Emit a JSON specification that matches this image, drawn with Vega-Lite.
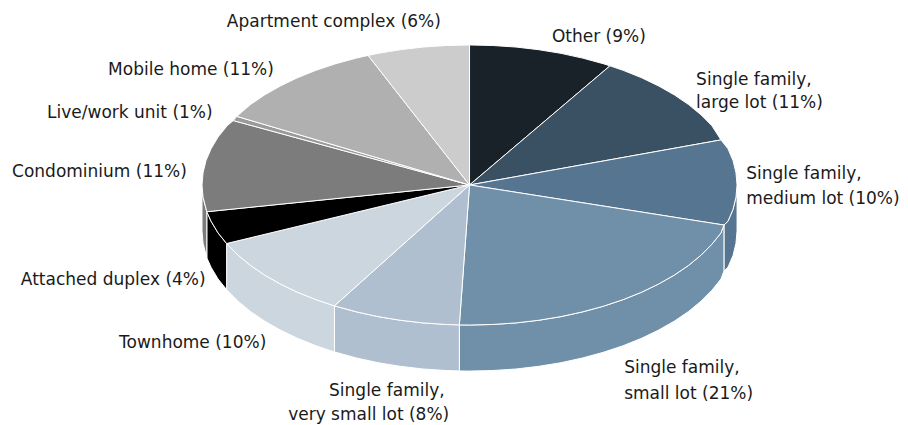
{
"$schema":"https://vega.github.io/schema/vega-lite/v6.json",
"width":908,"height":425,"padding":0,"autosize":{"type":"none"},"background":"white",
"config":{"view":{"stroke":null}},
"datasets":{
"wall":[
{"slice":"Medium","n":0,"x":1,"y":0},{"slice":"Medium","n":1,"x":0.996,"y":-0.087},{"slice":"Medium","n":2,"x":0.985,"y":-0.174},{"slice":"Medium","n":3,"x":0.966,"y":-0.259},{"slice":"Medium","n":4,"x":0.951,"y":-0.286},{"slice":"Medium","n":5,"x":0.951,"y":-0.615},{"slice":"Medium","n":6,"x":0.966,"y":-0.588},{"slice":"Medium","n":7,"x":0.985,"y":-0.503},{"slice":"Medium","n":8,"x":0.996,"y":-0.416},{"slice":"Medium","n":9,"x":1,"y":-0.329},{"slice":"Medium","n":10,"x":1,"y":0},
{"slice":"Small","n":0,"x":0.951,"y":-0.286},{"slice":"Small","n":1,"x":0.94,"y":-0.342},{"slice":"Small","n":2,"x":0.906,"y":-0.423},{"slice":"Small","n":3,"x":0.866,"y":-0.5},{"slice":"Small","n":4,"x":0.819,"y":-0.574},{"slice":"Small","n":5,"x":0.766,"y":-0.643},{"slice":"Small","n":6,"x":0.707,"y":-0.707},{"slice":"Small","n":7,"x":0.643,"y":-0.766},{"slice":"Small","n":8,"x":0.574,"y":-0.819},{"slice":"Small","n":9,"x":0.5,"y":-0.866},{"slice":"Small","n":10,"x":0.423,"y":-0.906},{"slice":"Small","n":11,"x":0.342,"y":-0.94},{"slice":"Small","n":12,"x":0.259,"y":-0.966},{"slice":"Small","n":13,"x":0.174,"y":-0.985},{"slice":"Small","n":14,"x":0.087,"y":-0.996},{"slice":"Small","n":15,"x":0,"y":-1},{"slice":"Small","n":16,"x":-0.038,"y":-0.999},
{"slice":"Small","n":17,"x":-0.038,"y":-1.328},{"slice":"Small","n":18,"x":0,"y":-1.329},{"slice":"Small","n":19,"x":0.087,"y":-1.325},{"slice":"Small","n":20,"x":0.174,"y":-1.314},{"slice":"Small","n":21,"x":0.259,"y":-1.295},{"slice":"Small","n":22,"x":0.342,"y":-1.269},{"slice":"Small","n":23,"x":0.423,"y":-1.235},{"slice":"Small","n":24,"x":0.5,"y":-1.195},{"slice":"Small","n":25,"x":0.574,"y":-1.148},{"slice":"Small","n":26,"x":0.643,"y":-1.095},{"slice":"Small","n":27,"x":0.707,"y":-1.036},{"slice":"Small","n":28,"x":0.766,"y":-0.972},{"slice":"Small","n":29,"x":0.819,"y":-0.903},{"slice":"Small","n":30,"x":0.866,"y":-0.829},{"slice":"Small","n":31,"x":0.906,"y":-0.752},{"slice":"Small","n":32,"x":0.94,"y":-0.671},{"slice":"Small","n":33,"x":0.951,"y":-0.615},{"slice":"Small","n":34,"x":0.951,"y":-0.286},
{"slice":"VerySmall","n":0,"x":-0.038,"y":-0.999},{"slice":"VerySmall","n":1,"x":-0.087,"y":-0.996},{"slice":"VerySmall","n":2,"x":-0.174,"y":-0.985},{"slice":"VerySmall","n":3,"x":-0.259,"y":-0.966},{"slice":"VerySmall","n":4,"x":-0.342,"y":-0.94},{"slice":"VerySmall","n":5,"x":-0.423,"y":-0.906},{"slice":"VerySmall","n":6,"x":-0.505,"y":-0.863},{"slice":"VerySmall","n":7,"x":-0.505,"y":-1.192},{"slice":"VerySmall","n":8,"x":-0.423,"y":-1.235},{"slice":"VerySmall","n":9,"x":-0.342,"y":-1.269},{"slice":"VerySmall","n":10,"x":-0.259,"y":-1.295},{"slice":"VerySmall","n":11,"x":-0.174,"y":-1.314},{"slice":"VerySmall","n":12,"x":-0.087,"y":-1.325},{"slice":"VerySmall","n":13,"x":-0.038,"y":-1.328},{"slice":"VerySmall","n":14,"x":-0.038,"y":-0.999},
{"slice":"Townhome","n":0,"x":-0.505,"y":-0.863},{"slice":"Townhome","n":1,"x":-0.574,"y":-0.819},{"slice":"Townhome","n":2,"x":-0.643,"y":-0.766},{"slice":"Townhome","n":3,"x":-0.707,"y":-0.707},{"slice":"Townhome","n":4,"x":-0.766,"y":-0.643},{"slice":"Townhome","n":5,"x":-0.819,"y":-0.574},{"slice":"Townhome","n":6,"x":-0.866,"y":-0.5},{"slice":"Townhome","n":7,"x":-0.908,"y":-0.418},{"slice":"Townhome","n":8,"x":-0.908,"y":-0.747},{"slice":"Townhome","n":9,"x":-0.866,"y":-0.829},{"slice":"Townhome","n":10,"x":-0.819,"y":-0.903},{"slice":"Townhome","n":11,"x":-0.766,"y":-0.972},{"slice":"Townhome","n":12,"x":-0.707,"y":-1.036},{"slice":"Townhome","n":13,"x":-0.643,"y":-1.095},{"slice":"Townhome","n":14,"x":-0.574,"y":-1.148},{"slice":"Townhome","n":15,"x":-0.505,"y":-1.192},{"slice":"Townhome","n":16,"x":-0.505,"y":-0.863},
{"slice":"Attached","n":0,"x":-0.908,"y":-0.418},{"slice":"Attached","n":1,"x":-0.94,"y":-0.342},{"slice":"Attached","n":2,"x":-0.966,"y":-0.259},{"slice":"Attached","n":3,"x":-0.982,"y":-0.191},{"slice":"Attached","n":4,"x":-0.982,"y":-0.52},{"slice":"Attached","n":5,"x":-0.966,"y":-0.588},{"slice":"Attached","n":6,"x":-0.94,"y":-0.671},{"slice":"Attached","n":7,"x":-0.908,"y":-0.747},{"slice":"Attached","n":8,"x":-0.908,"y":-0.418},
{"slice":"Condo","n":0,"x":-0.982,"y":-0.191},{"slice":"Condo","n":1,"x":-0.996,"y":-0.087},{"slice":"Condo","n":2,"x":-1,"y":0},{"slice":"Condo","n":3,"x":-1,"y":-0.329},{"slice":"Condo","n":4,"x":-0.996,"y":-0.416},{"slice":"Condo","n":5,"x":-0.982,"y":-0.52},{"slice":"Condo","n":6,"x":-0.982,"y":-0.191}
],
"top":[
{"slice":"Other","n":0,"x":0,"y":0},{"slice":"Other","n":1,"x":0,"y":1},{"slice":"Other","n":2,"x":0.087,"y":0.996},{"slice":"Other","n":3,"x":0.174,"y":0.985},{"slice":"Other","n":4,"x":0.259,"y":0.966},{"slice":"Other","n":5,"x":0.342,"y":0.94},{"slice":"Other","n":6,"x":0.423,"y":0.906},{"slice":"Other","n":7,"x":0.5,"y":0.866},{"slice":"Other","n":8,"x":0.525,"y":0.851},{"slice":"Other","n":9,"x":0,"y":0},
{"slice":"Large","n":0,"x":0,"y":0},{"slice":"Large","n":1,"x":0.525,"y":0.851},{"slice":"Large","n":2,"x":0.574,"y":0.819},{"slice":"Large","n":3,"x":0.643,"y":0.766},{"slice":"Large","n":4,"x":0.707,"y":0.707},{"slice":"Large","n":5,"x":0.766,"y":0.643},{"slice":"Large","n":6,"x":0.819,"y":0.574},{"slice":"Large","n":7,"x":0.866,"y":0.5},{"slice":"Large","n":8,"x":0.906,"y":0.423},{"slice":"Large","n":9,"x":0.94,"y":0.322},{"slice":"Large","n":10,"x":0,"y":0},
{"slice":"Medium","n":0,"x":0,"y":0},{"slice":"Medium","n":1,"x":0.94,"y":0.322},{"slice":"Medium","n":2,"x":0.966,"y":0.259},{"slice":"Medium","n":3,"x":0.985,"y":0.174},{"slice":"Medium","n":4,"x":0.996,"y":0.087},{"slice":"Medium","n":5,"x":1,"y":0},{"slice":"Medium","n":6,"x":0.996,"y":-0.087},{"slice":"Medium","n":7,"x":0.985,"y":-0.174},{"slice":"Medium","n":8,"x":0.966,"y":-0.259},{"slice":"Medium","n":9,"x":0.951,"y":-0.286},{"slice":"Medium","n":10,"x":0,"y":0},
{"slice":"Small","n":0,"x":0,"y":0},{"slice":"Small","n":1,"x":0.951,"y":-0.286},{"slice":"Small","n":2,"x":0.94,"y":-0.342},{"slice":"Small","n":3,"x":0.906,"y":-0.423},{"slice":"Small","n":4,"x":0.866,"y":-0.5},{"slice":"Small","n":5,"x":0.819,"y":-0.574},{"slice":"Small","n":6,"x":0.766,"y":-0.643},{"slice":"Small","n":7,"x":0.707,"y":-0.707},{"slice":"Small","n":8,"x":0.643,"y":-0.766},{"slice":"Small","n":9,"x":0.574,"y":-0.819},{"slice":"Small","n":10,"x":0.5,"y":-0.866},{"slice":"Small","n":11,"x":0.423,"y":-0.906},{"slice":"Small","n":12,"x":0.342,"y":-0.94},{"slice":"Small","n":13,"x":0.259,"y":-0.966},{"slice":"Small","n":14,"x":0.174,"y":-0.985},{"slice":"Small","n":15,"x":0.087,"y":-0.996},{"slice":"Small","n":16,"x":0,"y":-1},{"slice":"Small","n":17,"x":-0.038,"y":-0.999},{"slice":"Small","n":18,"x":0,"y":0},
{"slice":"VerySmall","n":0,"x":0,"y":0},{"slice":"VerySmall","n":1,"x":-0.038,"y":-0.999},{"slice":"VerySmall","n":2,"x":-0.087,"y":-0.996},{"slice":"VerySmall","n":3,"x":-0.174,"y":-0.985},{"slice":"VerySmall","n":4,"x":-0.259,"y":-0.966},{"slice":"VerySmall","n":5,"x":-0.342,"y":-0.94},{"slice":"VerySmall","n":6,"x":-0.423,"y":-0.906},{"slice":"VerySmall","n":7,"x":-0.505,"y":-0.863},{"slice":"VerySmall","n":8,"x":0,"y":0},
{"slice":"Townhome","n":0,"x":0,"y":0},{"slice":"Townhome","n":1,"x":-0.505,"y":-0.863},{"slice":"Townhome","n":2,"x":-0.574,"y":-0.819},{"slice":"Townhome","n":3,"x":-0.643,"y":-0.766},{"slice":"Townhome","n":4,"x":-0.707,"y":-0.707},{"slice":"Townhome","n":5,"x":-0.766,"y":-0.643},{"slice":"Townhome","n":6,"x":-0.819,"y":-0.574},{"slice":"Townhome","n":7,"x":-0.866,"y":-0.5},{"slice":"Townhome","n":8,"x":-0.908,"y":-0.418},{"slice":"Townhome","n":9,"x":0,"y":0},
{"slice":"Attached","n":0,"x":0,"y":0},{"slice":"Attached","n":1,"x":-0.908,"y":-0.418},{"slice":"Attached","n":2,"x":-0.94,"y":-0.342},{"slice":"Attached","n":3,"x":-0.966,"y":-0.259},{"slice":"Attached","n":4,"x":-0.982,"y":-0.191},{"slice":"Attached","n":5,"x":0,"y":0},
{"slice":"Condo","n":0,"x":0,"y":0},{"slice":"Condo","n":1,"x":-0.982,"y":-0.191},{"slice":"Condo","n":2,"x":-0.996,"y":-0.087},{"slice":"Condo","n":3,"x":-1,"y":0},{"slice":"Condo","n":4,"x":-0.996,"y":0.087},{"slice":"Condo","n":5,"x":-0.985,"y":0.174},{"slice":"Condo","n":6,"x":-0.966,"y":0.259},{"slice":"Condo","n":7,"x":-0.94,"y":0.342},{"slice":"Condo","n":8,"x":-0.906,"y":0.423},{"slice":"Condo","n":9,"x":-0.883,"y":0.46},{"slice":"Condo","n":10,"x":0,"y":0},
{"slice":"Live","n":0,"x":0,"y":0},{"slice":"Live","n":1,"x":-0.883,"y":0.46},{"slice":"Live","n":2,"x":-0.87,"y":0.49},{"slice":"Live","n":3,"x":0,"y":0},
{"slice":"Mobile","n":0,"x":0,"y":0},{"slice":"Mobile","n":1,"x":-0.87,"y":0.49},{"slice":"Mobile","n":2,"x":-0.819,"y":0.574},{"slice":"Mobile","n":3,"x":-0.766,"y":0.643},{"slice":"Mobile","n":4,"x":-0.707,"y":0.707},{"slice":"Mobile","n":5,"x":-0.643,"y":0.766},{"slice":"Mobile","n":6,"x":-0.574,"y":0.819},{"slice":"Mobile","n":7,"x":-0.5,"y":0.866},{"slice":"Mobile","n":8,"x":-0.423,"y":0.906},{"slice":"Mobile","n":9,"x":-0.379,"y":0.925},{"slice":"Mobile","n":10,"x":0,"y":0},
{"slice":"Apartment","n":0,"x":0,"y":0},{"slice":"Apartment","n":1,"x":-0.379,"y":0.925},{"slice":"Apartment","n":2,"x":-0.342,"y":0.94},{"slice":"Apartment","n":3,"x":-0.259,"y":0.966},{"slice":"Apartment","n":4,"x":-0.174,"y":0.985},{"slice":"Apartment","n":5,"x":-0.087,"y":0.996},{"slice":"Apartment","n":6,"x":0,"y":1},{"slice":"Apartment","n":7,"x":0,"y":0}
],
"labels":[
{"t":"Apartment complex (6%)","x":-0.907,"y":1.171},
{"t":"Other (9%)","x":0.308,"y":1.064},
{"t":"Single family,","x":0.847,"y":0.757},
{"t":"large lot (11%)","x":0.847,"y":0.593},
{"t":"Single family,","x":1.034,"y":0.086},
{"t":"medium lot (10%)","x":1.034,"y":-0.093},
{"t":"Single family,","x":0.578,"y":-1.3},
{"t":"small lot (21%)","x":0.578,"y":-1.486},
{"t":"Single family,","x":-0.525,"y":-1.464},
{"t":"very small lot (8%)","x":-0.678,"y":-1.636},
{"t":"Townhome (10%)","x":-1.31,"y":-1.121},
{"t":"Attached duplex (4%)","x":-1.677,"y":-0.671},
{"t":"Condominium (11%)","x":-1.71,"y":0.1},
{"t":"Live/work unit (1%)","x":-1.579,"y":0.521},
{"t":"Mobile home (11%)","x":-1.351,"y":0.829}
]},
"layer":[
{"data":{"name":"wall"},"mark":{"type":"line","filled":true,"stroke":"white","strokeWidth":1,"strokeJoin":"miter"},
"encoding":{"x":{"field":"x","type":"quantitative","scale":{"domain":[-1.755,1.639],"nice":false,"zero":false},"axis":null},"y":{"field":"y","type":"quantitative","scale":{"domain":[-1.714,1.321],"nice":false,"zero":false},"axis":null},"order":{"field":"n","type":"quantitative"},"detail":{"field":"slice"},"fill":{"field":"slice","type":"nominal","legend":null,"scale":{"domain":["Other","Large","Medium","Small","VerySmall","Townhome","Attached","Condo","Live","Mobile","Apartment"],"range":["#182228","#3a5063","#557590","#7090aa","#afbfd0","#ccd6df","#000000","#7c7c7c","#9a9a9a","#b0b0b0","#cccccc"]}}}},
{"data":{"name":"top"},"mark":{"type":"line","filled":true,"stroke":"white","strokeWidth":1,"strokeJoin":"miter"},
"encoding":{"x":{"field":"x","type":"quantitative","scale":{"domain":[-1.755,1.639],"nice":false,"zero":false},"axis":null},"y":{"field":"y","type":"quantitative","scale":{"domain":[-1.714,1.321],"nice":false,"zero":false},"axis":null},"order":{"field":"n","type":"quantitative"},"detail":{"field":"slice"},"fill":{"field":"slice","type":"nominal","legend":null,"scale":{"domain":["Other","Large","Medium","Small","VerySmall","Townhome","Attached","Condo","Live","Mobile","Apartment"],"range":["#182228","#3a5063","#557590","#7090aa","#afbfd0","#ccd6df","#000000","#7c7c7c","#9a9a9a","#b0b0b0","#cccccc"]}}}},
{"data":{"name":"labels"},"mark":{"type":"text","align":"left","baseline":"middle","font":"DejaVu Sans","fontSize":17,"dy":1,"color":"#1a1a1a"},
"encoding":{"x":{"field":"x","type":"quantitative","scale":{"domain":[-1.755,1.639],"nice":false,"zero":false},"axis":null},"y":{"field":"y","type":"quantitative","scale":{"domain":[-1.714,1.321],"nice":false,"zero":false},"axis":null},"text":{"field":"t"}}}
]
}
